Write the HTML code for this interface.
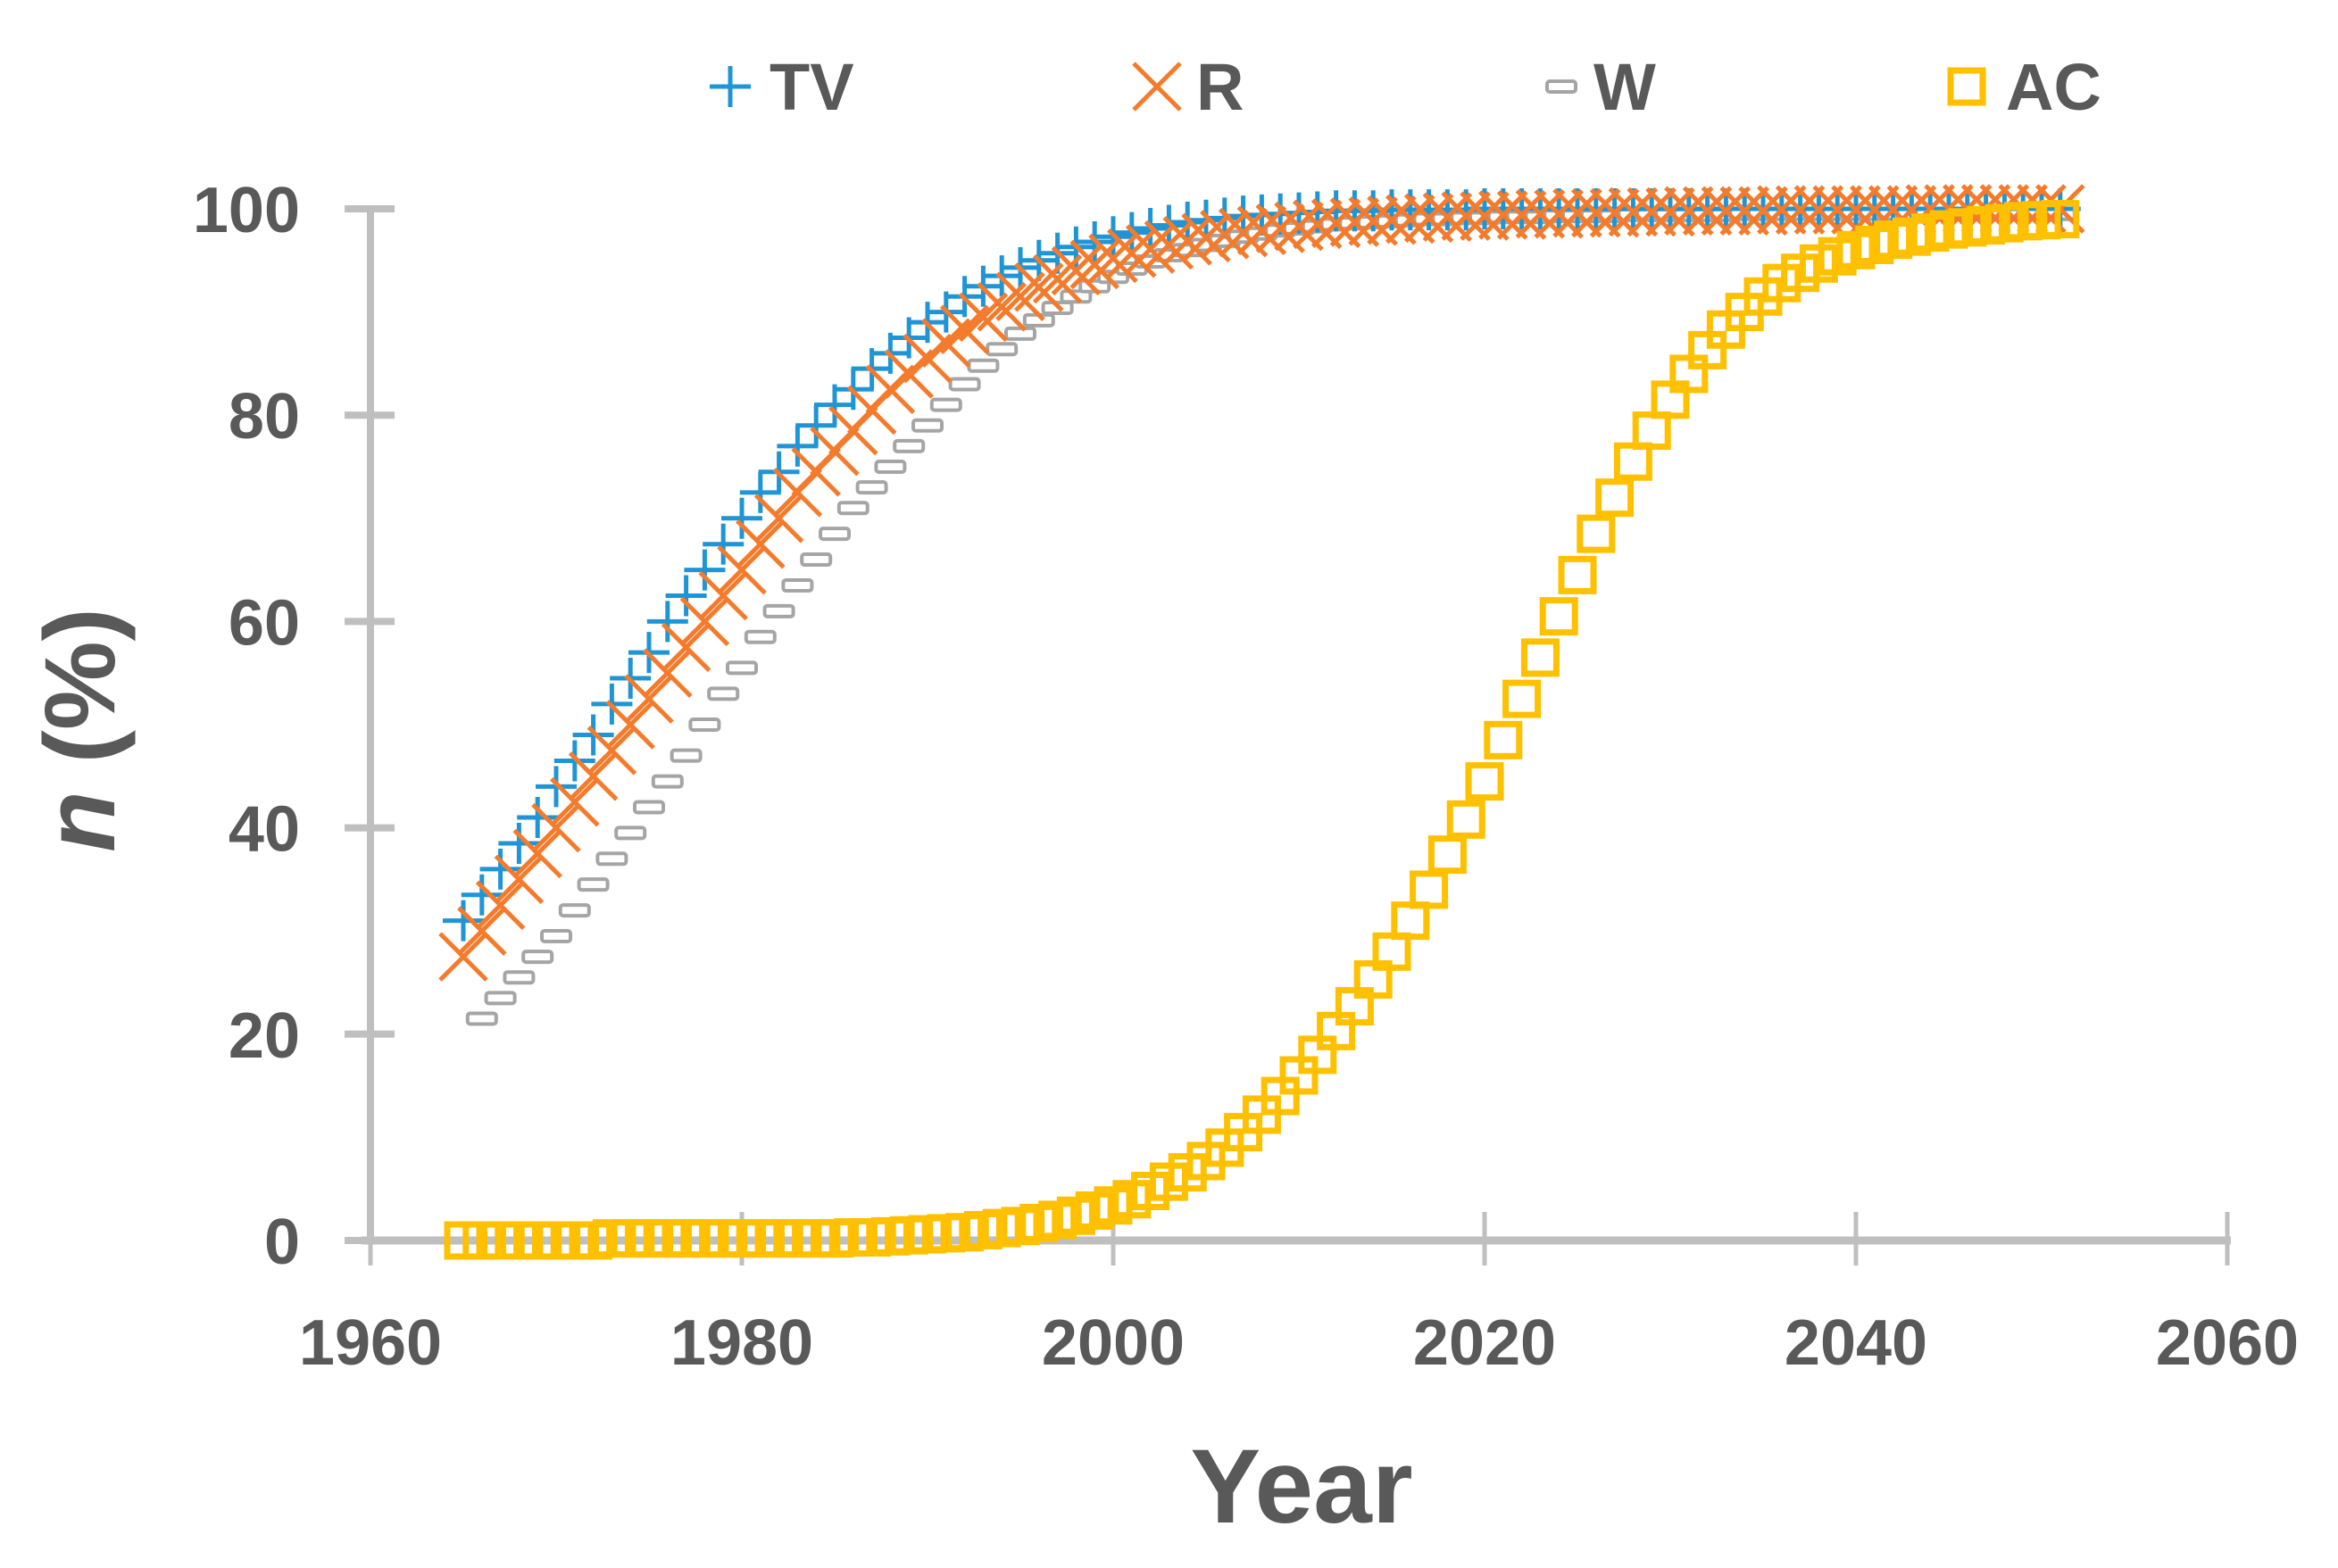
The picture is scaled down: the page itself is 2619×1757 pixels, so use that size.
<!DOCTYPE html>
<html><head><meta charset="utf-8"><style>
html,body{margin:0;padding:0;background:#fff;}
svg{display:block;font-family:"Liberation Sans",sans-serif;}
</style></head><body>
<svg id="chart" width="2619" height="1757" viewBox="0 0 2619 1757" xmlns="http://www.w3.org/2000/svg">
<g id="axes"></g>
<g id="series"></g>
<g id="legend"></g>
<text x="1458" y="1706" text-anchor="middle" font-size="118" font-weight="bold" fill="#595959">Year</text>
<text transform="translate(128,818) rotate(-90)" text-anchor="middle" font-size="112" font-weight="bold" fill="#595959"><tspan font-style="italic">n</tspan> (%)</text>
</svg>
<script>
const xTicks = [1960, 1980, 2000, 2020, 2040, 2060];
const yTicks = [0, 20, 40, 60, 80, 100];
const tvYears = [1965,1966,1967,1968,1969,1970,1971,1972,1973,1974,1975,1976,1977,1978,1979,1980,1981,1982,1983,1984,1985,1986,1987,1988,1989,1990,1991,1992,1993,1994,1995,1996,1997,1998,1999,2000,2001,2002,2003,2004,2005,2006,2007,2008,2009,2010,2011,2012,2013,2014,2015,2016,2017,2018,2019,2020,2021,2022,2023,2024,2025,2026,2027,2028,2029,2030,2031,2032,2033,2034,2035,2036,2037,2038,2039,2040,2041,2042,2043,2044,2045,2046,2047,2048,2049,2050,2051];
const tvValues = [31,33.5,36,38.5,41,44,46.5,49,52,54.5,57,60,62.5,65,67.5,70,72.5,74.5,77,79,81,82.5,84.5,86,87.5,89,90,91.5,92.5,93.5,94.3,95,95.7,96.3,96.8,97.3,97.7,98.1,98.4,98.7,98.9,99.1,99.3,99.4,99.5,99.6,99.7,99.8,99.8,99.8,99.9,99.9,99.9,99.9,99.9,100,100,100,100,100,100,100,100,100,100,100,100,100,100,100,100,100,100,100,100,100,100,100,100,100,100,100,100,100,100,100,100];
const rYears = tvYears;
const rValues = [27.5,30,32.5,35,37.5,40,42.5,45,47.5,50,52.5,55,57.5,60,62.5,65,67.5,70,72.5,74.5,76.5,78.5,80.5,82.5,84,85.5,87,88.3,89.5,90.5,91.5,92.4,93.2,94,94.6,95.2,95.7,96.1,96.5,96.9,97.2,97.5,97.7,97.9,98.1,98.3,98.5,98.6,98.7,98.8,98.9,99,99.1,99.2,99.3,99.3,99.4,99.4,99.5,99.5,99.6,99.6,99.6,99.7,99.7,99.7,99.8,99.8,99.8,99.8,99.8,99.9,99.9,99.9,99.9,99.9,99.9,99.9,99.9,100,100,100,100,100,100,100,100];
const wYears = [1966,1967,1968,1969,1970,1971,1972,1973,1974,1975,1976,1977,1978,1979,1980,1981,1982,1983,1984,1985,1986,1987,1988,1989,1990,1991,1992,1993,1994,1995,1996,1997,1998,1999,2000,2001,2002,2003,2004,2005,2006,2007,2008,2009,2010,2011,2012,2013,2014,2015,2016,2017,2018,2019,2020,2021,2022,2023,2024,2025,2026,2027,2028,2029,2030,2031,2032,2033,2034,2035,2036,2037,2038,2039,2040,2041,2042,2043,2044,2045,2046,2047,2048,2049,2050,2051];
const wValues = [21.5,23.5,25.5,27.5,29.5,32,34.5,37,39.5,42,44.5,47,50,53,55.5,58.5,61,63.5,66,68.5,71,73,75,77,79,81,83,84.8,86.4,87.9,89.2,90.4,91.5,92.5,93.4,94.2,94.9,95.5,96,96.5,96.9,97.3,97.6,97.9,98.1,98.3,98.5,98.6,98.7,98.8,98.9,99,99,99.1,99.1,99.2,99.2,99.2,99.3,99.3,99.3,99.3,99.4,99.4,99.4,99.4,99.4,99.4,99.5,99.5,99.5,99.5,99.5,99.5,99.5,99.5,99.5,99.5,99.5,99.5,99.5,99.5,99.5,99.5,99.5,99.5];
const acYears = tvYears;
const acValues = [0,0,0,0,0,0,0,0,0.2,0.2,0.2,0.2,0.2,0.2,0.2,0.2,0.2,0.2,0.2,0.2,0.2,0.3,0.3,0.4,0.5,0.6,0.7,0.8,1.0,1.2,1.4,1.7,2.0,2.4,2.9,3.4,4.0,4.8,5.7,6.6,7.7,9.0,10.5,12.2,14.0,16.0,18.0,20.3,22.7,25.3,28.0,31.0,34.0,37.4,40.8,44.5,48.5,52.5,56.5,60.5,64.5,68.5,72.0,75.5,78.5,81.5,84.0,86.3,88.3,90.0,91.5,92.8,93.8,94.7,95.4,96.0,96.5,97.0,97.3,97.7,98.0,98.2,98.4,98.6,98.8,98.9,99.0];

const NS = "http://www.w3.org/2000/svg";
const X0 = 415, X1 = 2495, Y0 = 1390, Y1 = 234;
function xScale(v){ return X0 + (v - 1960) / 100 * (X1 - X0); }
function yScale(v){ return Y0 - v / 100 * (Y0 - Y1); }
function mk(tag, attrs, parent){ const e = document.createElementNS(NS, tag); for (const k in attrs) e.setAttribute(k, attrs[k]); parent.appendChild(e); return e; }

const axes = document.getElementById('axes');
let yl = mk('line', {x1:X0, y1:Y1, x2:X0, y2:Y0, stroke:'#bfbfbf', 'stroke-width':8}, axes);


let xl = mk('line', {x1:X0-10, y1:Y0, x2:X1+4, y2:Y0, stroke:'#bfbfbf', 'stroke-width':9}, axes);


yTicks.forEach(t => {
  const y = yScale(t);
  const tk = mk('line', {x1:X0-29, y1:y, x2:X0+27, y2:y, stroke:'#bfbfbf', 'stroke-width':8}, axes);
  
  
  const lb = mk('text', {x:336, y:y+26, 'text-anchor':'end', 'font-size':72, 'font-weight':'bold', fill:'#595959'}, axes);
  lb.textContent = t;
  
  
});
xTicks.forEach(t => {
  const x = xScale(t);
  const tk = mk('line', {x1:x, y1:Y0-32, x2:x, y2:Y0+28, stroke:'#bfbfbf', 'stroke-width':5}, axes);
  
  
  const lb = mk('text', {x:x, y:1529, 'text-anchor':'middle', 'font-size':72, 'font-weight':'bold', fill:'#595959'}, axes);
  lb.textContent = t;
  
  
});

const COL = {tv:'#1f95d6', r:'#f47b2c', w:'#a5a5a5', ac:'#ffc000'};
function marker(type, cx, cy, g){
  let e;
  if (type === 'tv') {
    e = mk('path', {d:`M${cx-23},${cy}H${cx+23}M${cx},${cy-23}V${cy+23}`, stroke:COL.tv, 'stroke-width':5, fill:'none'}, g);
  } else if (type === 'r') {
    e = mk('path', {d:`M${cx-26},${cy-26}L${cx+26},${cy+26}M${cx-26},${cy+26}L${cx+26},${cy-26}`, stroke:COL.r, 'stroke-width':5, fill:'none'}, g);
  } else if (type === 'w') {
    e = mk('rect', {x:cx-16, y:cy-6, width:32, height:12, rx:3, stroke:COL.w, 'stroke-width':4, fill:'#fff'}, g);
  } else {
    e = mk('rect', {x:cx-18, y:cy-18, width:36, height:36, stroke:COL.ac, 'stroke-width':7, fill:'none'}, g);
  }
  return e;
}
const series = document.getElementById('series');
[['w', wYears, wValues], ['tv', tvYears, tvValues], ['r', rYears, rValues], ['ac', acYears, acValues]].forEach(([k, yrs, vals]) => {
  const g = mk('g', {}, series);
  
  
  vals.forEach((v, i) => {
    const m = marker(k, xScale(yrs[i]), yScale(v), g);
    
    
  });
});

const legend = document.getElementById('legend');
const legItems = [['tv','TV',818,862],['r','R',1296,1340],['w','W',1749,1785],['ac','AC',2203,2247]];
legItems.forEach(([k, label, mx, tx]) => {
  const g = mk('g', {}, legend);
  
  
  const m = marker(k, mx, 97, g);
  
  
  const t = mk('text', {x:tx, y:123, 'font-size':74, 'font-weight':'bold', fill:'#595959'}, g);
  t.textContent = label;
  
  
});
</script>
</body></html>
